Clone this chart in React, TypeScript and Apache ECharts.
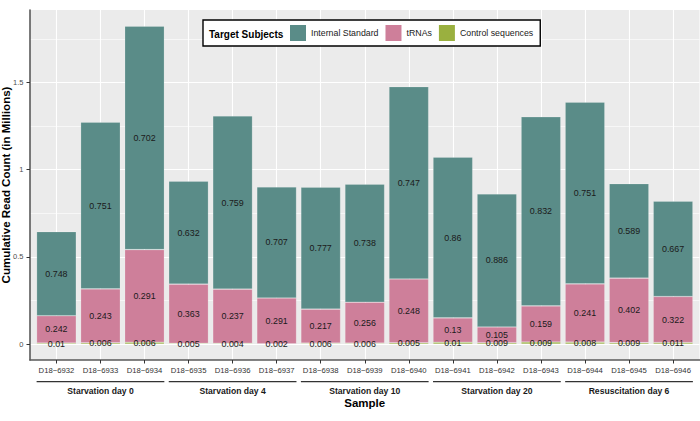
import React, { useEffect, useRef } from 'react';
import * as echarts from 'echarts';

const samples = [
  'D18−6932', 'D18−6933', 'D18−6934', 'D18−6935', 'D18−6936',
  'D18−6937', 'D18−6938', 'D18−6939', 'D18−6940', 'D18−6941',
  'D18−6942', 'D18−6943', 'D18−6944', 'D18−6945', 'D18−6946',
];
const groups = [
  'Starvation day 0', 'Starvation day 4', 'Starvation day 10',
  'Starvation day 20', 'Resuscitation day 6',
];
const groupSize = 3;

// total reads per sample (millions)
const totals = [0.645, 1.272, 1.824, 0.934, 1.308, 0.901, 0.900, 0.917, 1.476, 1.072, 0.861, 1.303, 1.387, 0.920, 0.819];
// proportion of each target subject per sample
const fracInternal = [0.748, 0.751, 0.702, 0.632, 0.759, 0.707, 0.777, 0.738, 0.747, 0.86, 0.886, 0.832, 0.751, 0.589, 0.667];
const fracTrna = [0.242, 0.243, 0.291, 0.363, 0.237, 0.291, 0.217, 0.256, 0.248, 0.13, 0.105, 0.159, 0.241, 0.402, 0.322];
const fracControl = [0.01, 0.006, 0.006, 0.005, 0.004, 0.002, 0.006, 0.006, 0.005, 0.01, 0.009, 0.009, 0.008, 0.009, 0.011];

const yTicks = [0, 0.5, 1, 1.5];
const yMinorTicks = [0.25, 0.75, 1.25, 1.75];
const legendOrder = ['Internal Standard', 'tRNAs', 'Control sequences'];

const FONT = '"Liberation Sans", Arial, Helvetica, sans-serif';

export default function App() {
  const ref = useRef<HTMLDivElement>(null);

  useEffect(() => {
    if (!ref.current) return;
    const chart = echarts.init(ref.current, null, { renderer: 'svg' });

    const W = 700;
    const positions = samples.map((_, i) => i + 1);
    const xMin = 0.4;
    const xMax = samples.length + 0.6;
    const maxTotal = Math.max(...totals);
    const yMin = -maxTotal * 0.05;
    const yMax = maxTotal * 1.05;

    // panel (grid 0) and the bar grid (grid 1) inset by the discrete-axis expansion
    const panelLeft = 30;
    const panelRight = 0.5;
    const panelTop = 10;
    const panelBottom = 61;
    const unit = (W - panelLeft - panelRight) / (xMax - xMin);
    const inset = (1 - xMin - 0.5) * unit; // 0.1 unit

    const defs = [
      { name: 'Control sequences', frac: fracControl, color: '#9AB03F' },
      { name: 'tRNAs', frac: fracTrna, color: '#CE7F9A' },
      { name: 'Internal Standard', frac: fracInternal, color: '#5A8C88' },
    ];

    const series = defs.map((d) => ({
      name: d.name,
      type: 'bar',
      stack: 'reads',
      xAxisIndex: 1,
      yAxisIndex: 2,
      barWidth: '90%',
      data: totals.map((t, i) => t * d.frac[i]),
      itemStyle: { color: d.color, borderColor: 'rgba(255,255,255,0.3)', borderWidth: 0.6 },
      label: {
        show: true,
        position: 'inside',
        fontSize: 8.9,
        fontFamily: FONT,
        color: '#1a1a1a',
        formatter: (p: any) => String(d.frac[p.dataIndex]),
      },
      emphasis: { disabled: true },
    }));

    const option: any = {
      animation: false,
      textStyle: { fontFamily: FONT },
      grid: [
        {
          left: panelLeft, right: panelRight, top: panelTop, bottom: panelBottom,
          show: true, backgroundColor: '#EBEBEB', borderWidth: 0,
          containLabel: false, outerBoundsMode: 'none',
        },
        {
          left: panelLeft + inset, right: panelRight + inset, top: panelTop, bottom: panelBottom,
          show: false, containLabel: false, outerBoundsMode: 'none',
        },
      ],
      legend: {
        data: legendOrder,
        left: 203, top: 20,
        itemWidth: 16, itemHeight: 16, itemGap: 7,
        padding: [5, 7, 5, 87],
        backgroundColor: '#fff', borderColor: '#000', borderWidth: 1.4,
        icon: 'rect',
        itemStyle: { borderWidth: 0 },
        textStyle: { fontSize: 8.8, color: '#1a1a1a', fontFamily: FONT },
        selectedMode: false,
      },
      xAxis: [
        {
          gridIndex: 0,
          type: 'value', min: xMin, max: xMax,
          name: 'Sample', nameLocation: 'middle', nameGap: 37,
          nameTextStyle: { fontSize: 11.5, fontWeight: 'bold', color: '#000', fontFamily: FONT },
          axisLine: { show: true, onZero: false, lineStyle: { color: '#5a5a5a', width: 1.6 } },
          axisTick: { show: true, length: 3.5, customValues: positions, lineStyle: { color: '#333', width: 1 } },
          axisLabel: {
            customValues: positions, margin: 6.5, fontSize: 7.7, color: '#333', fontFamily: FONT,
            formatter: (v: number) => samples[Math.round(v) - 1] ?? '',
          },
          splitLine: { show: true, lineStyle: { color: '#fff', width: 1.1 } },
        },
        {
          gridIndex: 1,
          type: 'category', data: samples, show: false,
        },
      ],
      yAxis: [
        {
          gridIndex: 0,
          type: 'value', min: yMin, max: yMax, position: 'left',
          name: 'Cumulative Read Count (in Millions)', nameLocation: 'middle', nameGap: 18,
          nameMoveOverlap: false,
          nameTextStyle: { fontSize: 11.5, fontWeight: 'bold', color: '#000', fontFamily: FONT },
          axisLine: { show: true, lineStyle: { color: '#5a5a5a', width: 1.6 } },
          axisTick: { show: true, length: 3.5, customValues: yTicks, lineStyle: { color: '#333', width: 1 } },
          axisLabel: {
            customValues: yTicks, margin: 6.5, fontSize: 7.5, color: '#4d4d4d', fontFamily: FONT,
            formatter: (v: number) => String(v),
          },
          splitLine: { show: true, lineStyle: { color: '#fff', width: 1.1 } },
        },
        {
          gridIndex: 0,
          type: 'value', min: yMin, max: yMax, position: 'left',
          axisLine: { show: false },
          axisTick: { show: false, customValues: yMinorTicks },
          axisLabel: { show: false, customValues: yMinorTicks },
          splitLine: { show: true, lineStyle: { color: '#fff', width: 0.6 } },
        },
        {
          gridIndex: 1,
          type: 'value', min: yMin, max: yMax, show: false,
        },
      ],
      series,
    };

    chart.setOption(option);

    // group annotations under the sample labels, positioned through the axis scales
    const yBase = chart.convertToPixel({ yAxisIndex: 0 }, yMin) as number;
    const graphics: any[] = [
      {
        type: 'text', x: 209, y: 34, z: 100,
        style: { text: 'Target Subjects', fontSize: 10, fontWeight: 'bold', fontFamily: FONT, fill: '#000', verticalAlign: 'middle' },
      },
    ];
    groups.forEach((g, gi) => {
      const first = gi * groupSize + 1;
      const last = first + groupSize - 1;
      const x1 = chart.convertToPixel({ xAxisIndex: 0 }, first - 0.45) as number;
      const x2 = chart.convertToPixel({ xAxisIndex: 0 }, last + 0.45) as number;
      const xc = chart.convertToPixel({ xAxisIndex: 0 }, (first + last) / 2) as number;
      graphics.push({
        type: 'line', z: 100,
        shape: { x1, y1: yBase + 21.7, x2, y2: yBase + 21.7 },
        style: { stroke: '#333', lineWidth: 1.3 },
      });
      graphics.push({
        type: 'text', x: xc, y: yBase + 30.5, z: 100,
        style: { text: g, fontSize: 8.6, fontWeight: 'bold', fontFamily: FONT, fill: '#1a1a1a', align: 'center', verticalAlign: 'middle' },
      });
    });
    chart.setOption({ graphic: graphics });

    return () => chart.dispose();
  }, []);

  return (
    <div
      ref={ref}
      style={{ position: 'fixed', left: 0, top: 0, width: 700, height: 421, background: '#fff' }}
    />
  );
}
